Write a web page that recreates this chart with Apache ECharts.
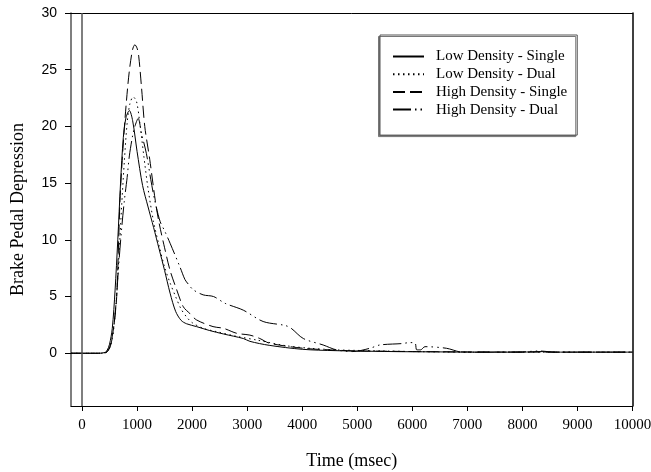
<!DOCTYPE html>
<html>
<head>
<meta charset="utf-8">
<script src="https://cdn.jsdelivr.net/npm/echarts@6/dist/echarts.min.js"></script>
<style>
html,body{margin:0;padding:0;background:#fff;}
#chart{width:651px;height:472px;}
</style>
</head>
<body>
<div id="chart"></div>
<script>
// ---- data ----
const seriesNames = ['Low Density - Single', 'Low Density - Dual', 'High Density - Single', 'High Density - Dual'];

const ldsT = [-200, 0, 300, 400, 450, 500, 550, 600, 650, 700, 750, 800, 860, 920, 1000, 1100, 1200, 1300, 1400, 1500, 1600, 1700, 1800, 1900, 2080, 2320, 2570, 2930, 3050, 3400, 4000, 4600, 5200, 5800, 6500, 7000, 7500, 8000, 8300, 8600, 9000, 9500, 10000];
const ldsV = [0, 0, 0, 0.05, 0.2, 0.8, 2.2, 5.5, 10, 15, 19, 20.8, 21.4, 20.5, 17.8, 14.8, 12.9, 11.1, 9.2, 7.3, 5.3, 3.7, 2.9, 2.6, 2.35, 2.0, 1.7, 1.3, 1.05, 0.7, 0.35, 0.23, 0.18, 0.14, 0.12, 0.1, 0.1, 0.1, 0.15, 0.1, 0.1, 0.1, 0.1];

const lddT = [-200, 0, 300, 420, 470, 520, 570, 620, 670, 720, 770, 820, 870, 930, 990, 1050, 1120, 1200, 1300, 1400, 1500, 1600, 1700, 1800, 1900, 2000, 2200, 2450, 2800, 3170, 3700, 4140, 4600, 5000, 5500, 6000, 6500, 7000, 8000, 9000, 10000];
const lddV = [0, 0, 0, 0.05, 0.2, 0.7, 2, 4.5, 8.5, 13, 17, 20.3, 22, 22.6, 22.2, 20.3, 17.5, 14.5, 11.6, 9.5, 7.6, 6.2, 5.0, 3.9, 3.2, 2.7, 2.2, 1.9, 1.5, 1.17, 0.67, 0.44, 0.3, 0.25, 0.2, 0.15, 0.12, 0.1, 0.1, 0.1, 0.1];

const hdsT = [-200, 0, 300, 430, 480, 530, 580, 630, 690, 730, 780, 830, 870, 920, 960, 1000, 1030, 1080, 1140, 1230, 1330, 1400, 1500, 1600, 1720, 1840, 1960, 2080, 2380, 2570, 2810, 3050, 3230, 3410, 4020, 4500, 5000, 5500, 6000, 7000, 8000, 9000, 10000];
const hdsV = [0, 0, 0, 0.05, 0.3, 1, 2.5, 5, 13.5, 17, 20.6, 23.5, 25.3, 26.8, 27.2, 26.9, 26.2, 23.5, 20, 17.1, 13.5, 11.5, 9.3, 7.3, 5.6, 4.1, 3.5, 2.94, 2.35, 2.2, 1.76, 1.6, 1.3, 0.88, 0.44, 0.3, 0.2, 0.18, 0.15, 0.12, 0.1, 0.1, 0.1];

const hddT = [-200, 0, 300, 420, 470, 520, 570, 620, 670, 720, 770, 820, 860, 920, 960, 1020, 1080, 1170, 1250, 1320, 1420, 1500, 1600, 1780, 1870, 1930, 2020, 2200, 2390, 2600, 2930, 3290, 3690, 3800, 4020, 4380, 4620, 4920, 5230, 5410, 5800, 5960, 6050, 6080, 6150, 6230, 6620, 6920, 7500, 8000, 8300, 8600, 9000, 10000];
const hddV = [0, 0, 0, 0.05, 0.2, 0.7, 2, 4.5, 8, 11, 13.5, 15.5, 17.4, 19.2, 20, 20.7, 19.4, 17.6, 15.3, 13.5, 11.6, 10.8, 9.7, 7.6, 6.5, 6.1, 5.6, 5.15, 5.0, 4.4, 3.8, 2.8, 2.45, 2.2, 1.3, 0.73, 0.3, 0.15, 0.44, 0.73, 0.85, 0.94, 0.9, 0.3, 0.3, 0.58, 0.44, 0.09, 0.1, 0.12, 0.2, 0.1, 0.1, 0.1];

const xTicks = [0, 1000, 2000, 3000, 4000, 5000, 6000, 7000, 8000, 9000, 10000];
const yTicks = [0, 5, 10, 15, 20, 25, 30];

// ---- build ----
function pairs(t, v) { return t.map((x, i) => [x, v[i]]); }
const styles = [
  { type: 'solid' },
  { type: [1.5, 3.5] },
  { type: [12, 5] },
  { type: [18, 4, 1.5, 4, 1.5, 4] }
];
const datasets = [pairs(ldsT, ldsV), pairs(lddT, lddV), pairs(hdsT, hdsV), pairs(hddT, hddV)];

const serif = '"Liberation Serif", "Times New Roman", serif';
const sans = '"Liberation Sans", Arial, sans-serif';

const series = datasets.map((d, i) => ({
  name: seriesNames[i],
  type: 'line',
  data: d,
  symbol: 'none',
  smooth: 0.3,
  animation: false,
  lineStyle: Object.assign({ color: '#000', width: 1 }, styles[i]),
  itemStyle: { color: '#000' },
  z: 3
}));
series[0].markLine = {
  silent: true, symbol: 'none', label: { show: false }, animation: false,
  lineStyle: { color: '#555', width: 1.5, type: 'solid' },
  data: [{ xAxis: 0 }]
};

const chart = echarts.init(document.getElementById('chart'), null, { renderer: 'canvas' });
chart.setOption({
  animation: false,
  backgroundColor: '#fff',
  grid: { left: 71, right: 18.5, top: 13, bottom: 66, containLabel: false, outerBoundsMode: 'none' },
  legend: {
    data: seriesNames,
    orient: 'vertical',
    left: 380, top: 35,
    padding: [14, 10, 18, 12],
    itemWidth: 31, itemHeight: 14, itemGap: 2.7,
    itemStyle: { color: 'rgba(0,0,0,0)', borderWidth: 0, opacity: 0 },
    borderColor: '#555', borderWidth: 1,
    shadowColor: '#777', shadowOffsetX: -1.5, shadowOffsetY: 1.5, shadowBlur: 0,
    backgroundColor: '#fff',
    textStyle: { fontFamily: serif, fontSize: 15, color: '#000', padding: [0, 0, 0, 7] }
  },
  xAxis: [{
    type: 'value', min: -200, max: 10000,
    name: 'Time (msec)', nameLocation: 'middle', nameGap: 46,
    nameTextStyle: { fontFamily: serif, fontSize: 18, color: '#000' },
    axisLine: { onZero: false, lineStyle: { color: '#000', width: 1 } },
    axisTick: { show: true, inside: false, length: 5, customValues: xTicks, lineStyle: { color: '#000' } },
    axisLabel: { customValues: xTicks, formatter: v => String(v), fontFamily: serif, fontSize: 15, color: '#000', margin: 12 },
    splitLine: { show: false }
  }, {
    type: 'value', min: -200, max: 10000, position: 'top',
    axisLine: { onZero: false, lineStyle: { color: '#000', width: 1 } },
    axisTick: { show: false }, axisLabel: { show: false }, splitLine: { show: false }
  }],
  yAxis: [{
    type: 'value', min: -4.65, max: 30,
    name: 'Brake Pedal Depression', nameLocation: 'middle', nameGap: 44, nameRotate: 90,
    nameTextStyle: { fontFamily: serif, fontSize: 18, color: '#000' },
    axisLine: { onZero: false, lineStyle: { color: '#555', width: 1.5 } },
    axisTick: { show: true, inside: false, length: 6, customValues: yTicks, lineStyle: { color: '#000' } },
    axisLabel: { customValues: yTicks, formatter: v => String(v), fontFamily: sans, fontSize: 14, color: '#000', margin: 14 },
    splitLine: { show: false }
  }, {
    type: 'value', min: -4.65, max: 30, position: 'right',
    axisLine: { onZero: false, lineStyle: { color: '#000', width: 1.5 } },
    axisTick: { show: false }, axisLabel: { show: false }, splitLine: { show: false }
  }],
  series: series
});
</script>
</body>
</html>
